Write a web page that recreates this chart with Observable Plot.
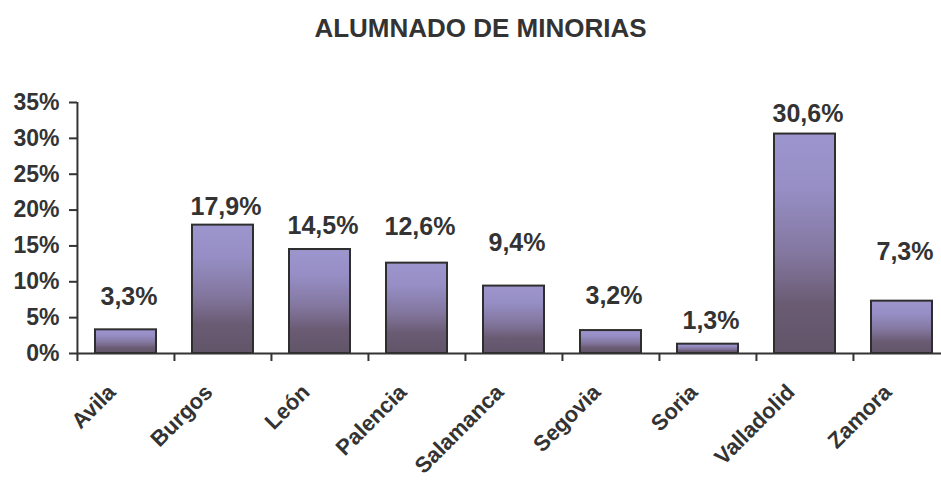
<!DOCTYPE html>
<html>
<head>
<meta charset="utf-8">
<script src="https://cdn.jsdelivr.net/npm/d3@7"></script>
<script src="https://cdn.jsdelivr.net/npm/@observablehq/plot@0.6"></script>
<style>
  html, body { margin: 0; padding: 0; background: #fff; }
  body { width: 941px; height: 480px; overflow: hidden; position: relative; font-family: "Liberation Sans", Arial, sans-serif; }
  #title { position: absolute; top: 15px; left: 20px; width: 921px; text-align: center; font-weight: bold; font-size: 26px; line-height: 26px; color: #333; }
  #chart { position: absolute; top: 60px; left: 0; }
</style>
</head>
<body>
<div id="title">ALUMNADO DE MINORIAS</div>
<div id="chart"></div>
<script>
// Data
const categories = ["Avila", "Burgos", "León", "Palencia", "Salamanca", "Segovia", "Soria", "Valladolid", "Zamora"];
const values = [3.3, 17.9, 14.5, 12.6, 9.4, 3.2, 1.3, 30.6, 7.3];
const valueLabels = ["3,3%", "17,9%", "14,5%", "12,6%", "9,4%", "3,2%", "1,3%", "30,6%", "7,3%"];
const yTicks = [0, 5, 10, 15, 20, 25, 30, 35];

// Styles: label lift above each bar top (px)
const labelLift = [33, 18, 24, 36, 43, 35, 23, 20, 49];

const rows = categories.map((c, i) => ({category: c, value: values[i], label: valueLabels[i]}));

const width = 941, height = 420, marginLeft = 77, marginRight = -10;
const step = (width - marginRight - marginLeft) / categories.length;
const ink = "#333";
const font = "Liberation Sans, Arial, sans-serif";

const chart = Plot.plot({
  width, height,
  marginTop: 42, marginBottom: 127, marginLeft, marginRight,
  style: {fontFamily: font, color: ink, background: "white", overflow: "hidden"},
  x: {domain: categories, paddingInner: 0.37, paddingOuter: 0.185},
  y: {domain: [yTicks[0], yTicks[yTicks.length - 1]]},
  marks: [
    Plot.barY(rows, {x: "category", y: "value", fill: "url(#barGrad)", stroke: "#2e2e2e", strokeWidth: 2}),
    Plot.ruleY([0], {stroke: ink, strokeWidth: 2}),
    Plot.ruleX(categories.slice(0, 1), {x: d => d, dx: -step / 2, stroke: ink, strokeWidth: 2}),
    Plot.axisY({ticks: yTicks, tickFormat: d => d + "%", tickSize: 8, tickPadding: 10,
      fontSize: 23, fontWeight: "bold", color: ink, strokeWidth: 2, label: null}),
    Plot.axisX({ticks: categories, tickFormat: () => "", tickSize: 8, dx: -step / 2,
      color: ink, strokeWidth: 2, label: null}),
    Plot.text(categories, {x: d => d, frameAnchor: "bottom", rotate: -45, textAnchor: "end",
      lineAnchor: "bottom", dx: -9, dy: 40, fontSize: 22, fontWeight: "bold", fill: ink}),
    ...rows.map((r, i) => Plot.text([r], {x: "category", y: "value", text: "label",
      dy: -labelLift[i], dx: 3, fontSize: 25, fontWeight: "bold", fill: ink, lineAnchor: "middle"}))
  ]
});

const ns = "http://www.w3.org/2000/svg";
const defs = document.createElementNS(ns, "defs");
const grad = document.createElementNS(ns, "linearGradient");
grad.setAttribute("id", "barGrad");
grad.setAttribute("x1", "0"); grad.setAttribute("y1", "0");
grad.setAttribute("x2", "0"); grad.setAttribute("y2", "1");
[[0, "#9d95cd"], [0.25, "#968ec5"], [0.55, "#83779f"], [0.78, "#6a5b73"], [1, "#615569"]].forEach(([o, c]) => {
  const s = document.createElementNS(ns, "stop");
  s.setAttribute("offset", o);
  s.setAttribute("stop-color", c);
  grad.appendChild(s);
});
defs.appendChild(grad);
chart.insertBefore(defs, chart.firstChild);

document.getElementById("chart").appendChild(chart);
</script>
</body>
</html>
